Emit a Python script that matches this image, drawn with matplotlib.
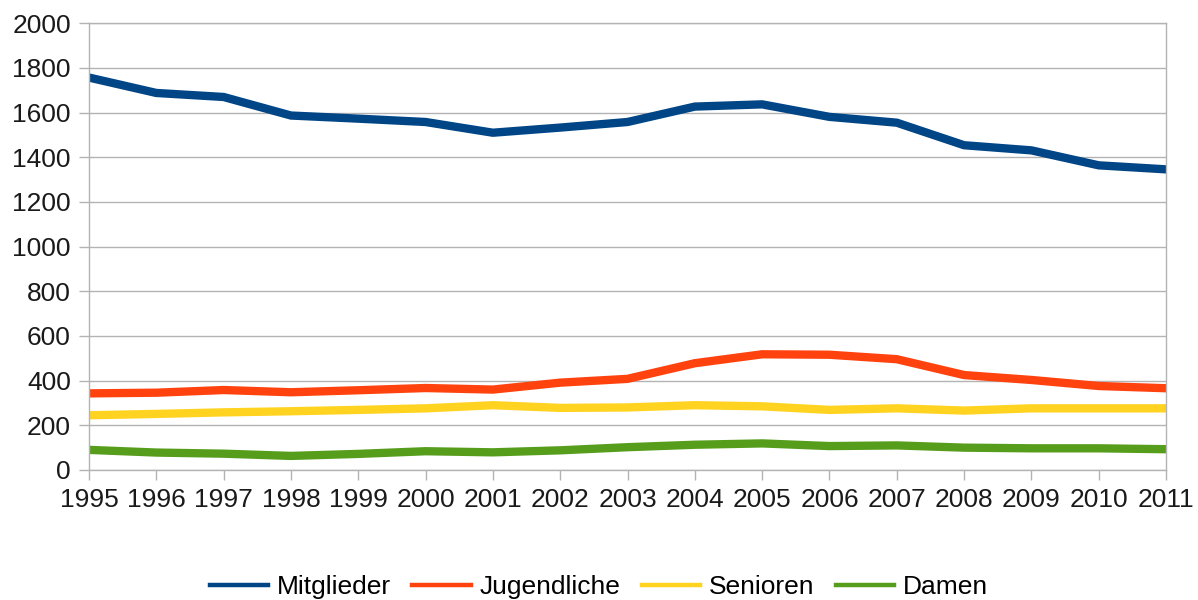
import matplotlib
matplotlib.use("Agg")
import matplotlib.pyplot as plt

# Member statistics 1995-2011
years = list(range(1995, 2012))
mitglieder = [1757, 1688, 1670, 1587, 1573, 1558, 1510, 1533, 1558,
              1627, 1637, 1581, 1555, 1454, 1431, 1364, 1346]
jugendliche = [343, 346, 358, 348, 357, 367, 360, 391, 408,
               478, 518, 516, 496, 425, 403, 376, 366]
senioren = [245, 251, 258, 263, 269, 276, 290, 278, 280,
            290, 285, 269, 276, 266, 276, 276, 276]
damen = [90, 78, 73, 63, 72, 84, 79, 88, 102,
         113, 119, 107, 110, 100, 97, 97, 93]

series_names = ["Mitglieder", "Jugendliche", "Senioren", "Damen"]
series_colors = ["#004586", "#ff420e", "#ffd320", "#579d1c"]

plt.rcParams["font.family"] = ["Liberation Sans", "DejaVu Sans"]
grid_col = "#b3b3b3"

fig = plt.figure(figsize=(11.98, 6.0), dpi=100)
ax = fig.add_axes([0.0743, 0.2167, 0.899, 0.7445])

for name, vals, col in zip(series_names, [mitglieder, jugendliche, senioren, damen], series_colors):
    ax.plot(years, vals, color=col, linewidth=6, label=name, solid_joinstyle="miter")

ax.set_xlim(1995, 2011)
ax.set_ylim(0, 2000)
ax.set_xticks(years)
ax.set_yticks(range(0, 2001, 200))
ax.yaxis.grid(True, color=grid_col, linewidth=1)
ax.set_axisbelow(True)

for side in ["left", "bottom", "right", "top"]:
    ax.spines[side].set_color(grid_col)
    ax.spines[side].set_linewidth(1)

ax.tick_params(axis="both", colors=grid_col, length=7, width=1,
               labelsize=19, labelcolor="#1a1a1a")
ax.tick_params(axis="x", pad=6)
ax.tick_params(axis="y", pad=6)

leg = fig.legend(loc="center", bbox_to_anchor=(0.5, 0.022), ncol=4,
                 frameon=False, fontsize=19, handlelength=2.2,
                 columnspacing=0.8, handletextpad=0.35)
for line in leg.get_lines():
    line.set_linewidth(3.2)

fig.savefig("out.png", dpi=100)
